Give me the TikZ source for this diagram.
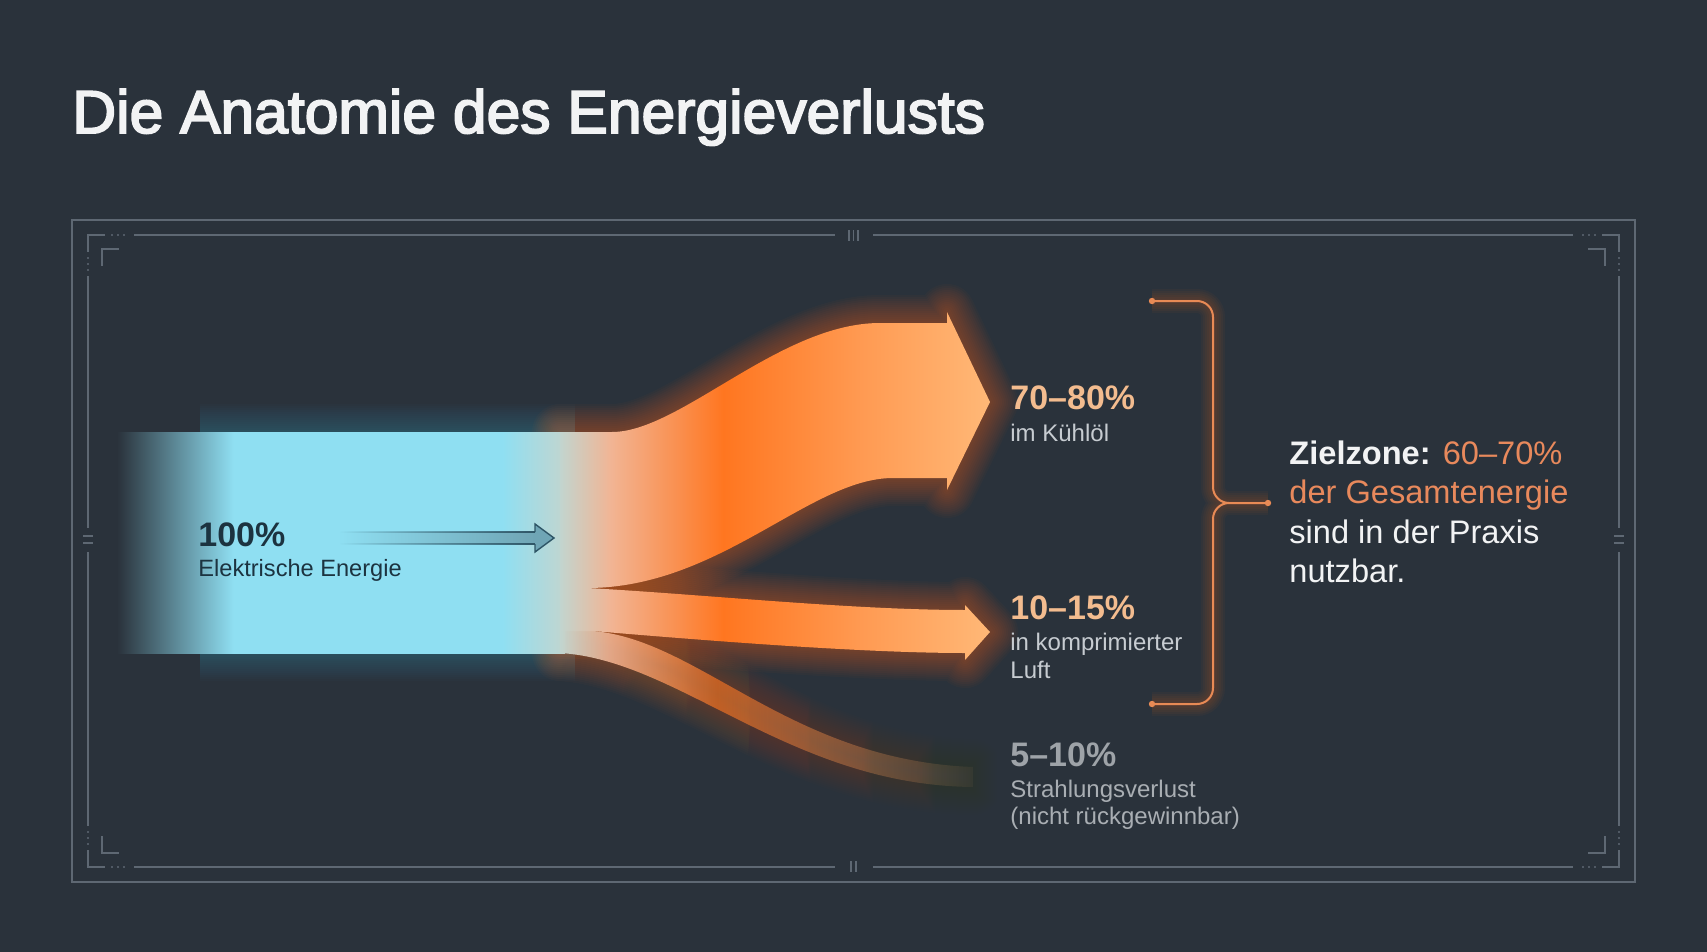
\documentclass[tikz,border=0pt]{standalone}
\usepackage{fontspec}
\setmainfont{Liberation Sans}
\newfontfamily\titlefont{Liberation Sans}[FakeBold=3]
\usepackage{tikz}
\usetikzlibrary{fadings}
\usepackage{xcolor}

\definecolor{bgslate}{HTML}{2A323B}
\definecolor{framegray}{HTML}{5E6873}
\definecolor{titlewhite}{HTML}{F2F3F4}
\definecolor{bandblue}{HTML}{8FDFF2}
\definecolor{bandglow}{HTML}{5CC8E0}
\definecolor{palemix}{HTML}{C2D5CF}
\definecolor{flowtan}{HTML}{F2B493}
\definecolor{flowhot}{HTML}{FF7620}
\definecolor{flowmid}{HTML}{FF9A52}
\definecolor{flowpeach}{HTML}{FFB877}
\definecolor{glowor}{HTML}{FF6A1A}
\definecolor{pctpeach}{HTML}{F3BC8F}
\definecolor{zoneorange}{HTML}{E8895C}
\definecolor{subgray}{HTML}{C7CCD1}
\definecolor{lossgray}{HTML}{9EA3A8}
\definecolor{losssub}{HTML}{A9AEB3}
\definecolor{darkink}{HTML}{1C3340}
\definecolor{arrowink}{HTML}{2E5566}
\definecolor{arrowfill}{HTML}{6FA5B5}
\definecolor{bracketor}{HTML}{E88A55}

\pgfdeclarehorizontalshading{bandshade}{100bp}{color(0bp)=(bgslate); color(25bp)=(bgslate); color(38bp)=(bandblue); color(68bp)=(bandblue); color(75bp)=(palemix); color(100bp)=(palemix)}
\pgfdeclarehorizontalshading{flowshade}{100bp}{color(0bp)=(palemix); color(25bp)=(palemix); color(31bp)=(flowtan); color(44bp)=(flowhot); color(60bp)=(flowmid); color(75bp)=(flowpeach); color(100bp)=(flowpeach)}

\tikzfading[name=fadein, left color=transparent!100, right color=transparent!0]
\tikzfading[name=tailfade, left color=transparent!0, middle color=transparent!20, right color=transparent!95]

\tikzset{
  frameline/.style={draw=framegray, line width=0.8pt},
  tickline/.style={draw=framegray, line width=0.9pt},
  pctlabel/.style={anchor=base west, inner sep=0pt, font=\bfseries\fontsize{17}{20}\selectfont, text=pctpeach},
  sublabel/.style={anchor=base west, inner sep=0pt, font=\fontsize{12}{14}\selectfont, text=subgray},
  zoneline/.style={anchor=base west, inner sep=0pt, font=\fontsize{16.3}{20}\selectfont, text=titlewhite},
  glowline/.style={draw=glowor, draw opacity=.03, line width=#1, line join=round},
  bracket/.style={draw=bracketor, line width=1pt, rounded corners=8pt},
}

\begin{document}
\begin{tikzpicture}[x=0.5pt, y=-0.5pt]
\useasboundingbox (0,0) rectangle (1707,952);
\fill[bgslate] (0,0) rectangle (1707,952);

%title
\node[anchor=base west, inner sep=0pt, text=titlewhite, font=\titlefont\fontsize{30.3}{36}\selectfont] (title) at (72,133) {Die Anatomie des Energieverlusts};

%frame
\draw[frameline] (72,220) rectangle (1635,882);
\draw[frameline] (134,235) -- (835,235) (873,235) -- (1573,235);
\draw[frameline] (134,867) -- (835,867) (873,867) -- (1573,867);
\draw[frameline] (88,276) -- (88,528) (88,552) -- (88,826);
\draw[frameline] (1619,276) -- (1619,528) (1619,552) -- (1619,826);
%corners
\draw[frameline] (105,235) -- (88,235) -- (88,252) (119,249) -- (102,249) -- (102,266);
\draw[frameline] (1602,235) -- (1619,235) -- (1619,252) (1588,249) -- (1605,249) -- (1605,266);
\draw[frameline] (105,867) -- (88,867) -- (88,850) (119,853) -- (102,853) -- (102,836);
\draw[frameline] (1602,867) -- (1619,867) -- (1619,850) (1588,853) -- (1605,853) -- (1605,836);
%ticks
\foreach \x in {849,853.5,858} \draw[tickline] (\x,230) -- (\x,241);
\foreach \x in {851,856} \draw[tickline] (\x,861) -- (\x,872);
\foreach \y in {536,543} \draw[tickline] (83,\y) -- (93,\y) (1614,\y) -- (1624,\y);
\foreach \x in {112,118,124,1583,1589,1595} \fill[framegray] (\x,235) circle (0.6pt) (\x,867) circle (0.6pt);
\foreach \y in {258,264,270,832,838,844} \fill[framegray] (88,\y) circle (0.6pt) (1619,\y) circle (0.6pt);

%flows
\def\kuehlflow{(560,432) -- (612,432) .. controls (680,432) and (780,323) .. (880,323) -- (947,323) -- (947,312) -- (990,402) -- (947,490) -- (947,478) -- (893,478) .. controls (810,478) and (720,588) .. (587,588) -- (560,588) -- cycle}
\def\luftflow{(560,588) -- (587,588) .. controls (700,594) and (850,610) .. (965,610) -- (965,605) -- (990,632) -- (965,660) -- (965,653) .. controls (860,653) and (700,640) .. (593,631) -- (560,631) -- cycle}
\def\strahlflow{(560,631) -- (593,631) .. controls (700,640) and (790,760) .. (973,767) -- (973,787) .. controls (790,785) and (680,660) .. (560,653) -- cycle}

%glow
\foreach \w in {2pt,4pt,...,28pt} {
  \draw[draw=bandglow, draw opacity=.02, line width=\w] (200,432) -- (575,432) (200,653) -- (575,653);
  \path[glowline=\w] \kuehlflow;
  \path[glowline=\w] \luftflow;
  \path[glowline=\w, path fading=tailfade] \strahlflow;
}

%input band
\shade[shading=bandshade] (117,432) rectangle (565,653);
\shade[shading=flowshade] \kuehlflow;
\shade[shading=flowshade] \luftflow;
\shade[shading=flowshade, path fading=tailfade] \strahlflow;

%arrow in band
\coordinate (arrowstart) at (340,538);
\coordinate (arrowtip) at (554,538);
\fill[arrowfill, path fading=fadein] (arrowstart) ++(0,-6) rectangle (536,544);
\draw[arrowink, line width=0.6pt, path fading=fadein] (340,532) -- (536,532) (340,544) -- (536,544);
\draw[arrowink, fill=arrowfill, line width=0.7pt, line join=miter] (535,532) -- (535,524) -- (arrowtip) -- (535,552) -- (535,544);

\node[anchor=base west, inner sep=0pt, font=\bfseries\fontsize{17}{20}\selectfont, text=darkink] (inpct) at (198,546) {100\%};
\node[anchor=base west, inner sep=0pt, font=\fontsize{11.8}{14}\selectfont, text=darkink] (intxt) at (198,576) {Elektrische Energie};

%labels
\node[pctlabel] (kuehlpct) at (1010,409) {70\textendash80\%};
\node[sublabel] (kuehltxt) at (1010,441) {im Kühlöl};
\node[pctlabel] (luftpct) at (1010,619) {10\textendash15\%};
\node[sublabel] (lufttxt) at (1010,650) {in komprimierter};
\node[sublabel] (luftend) at (1010,678) {Luft};
\node[pctlabel, text=lossgray] (strahlpct) at (1010,766) {5\textendash10\%};
\node[sublabel, text=losssub] (strahltxt) at (1010,797) {Strahlungsverlust};
\node[sublabel, text=losssub] (strahlend) at (1010,824) {(nicht rückgewinnbar)};

%bracket
\coordinate (brtop) at (1152,301);
\coordinate (brbot) at (1152,704);
\coordinate (brmid) at (1268,503);
\foreach \w in {2pt,4pt,...,12pt}
  \draw[bracket, draw=glowor, draw opacity=.04, line width=\w] (brtop) -- (1213,301) -- (1213,503) -- (brmid) (brbot) -- (1213,704) -- (1213,503) -- (brmid);
\draw[bracket] (brtop) -- (1213,301) -- (1213,503) -- (brmid) (brbot) -- (1213,704) -- (1213,503) -- (brmid);
\fill[bracketor] (brtop) circle (1.6pt) (brbot) circle (1.6pt) (brmid) circle (1.6pt);

%target zone
\node[zoneline] (zone1) at (1289,464) {\textbf{Zielzone:} \textcolor{zoneorange}{60\textendash70\%}};
\node[zoneline, text=zoneorange] (zone2) at (1289,503) {der Gesamtenergie};
\node[zoneline] (zone3) at (1289,543) {sind in der Praxis};
\node[zoneline] (zone4) at (1289,582) {nutzbar.};
\end{tikzpicture}
\end{document}
